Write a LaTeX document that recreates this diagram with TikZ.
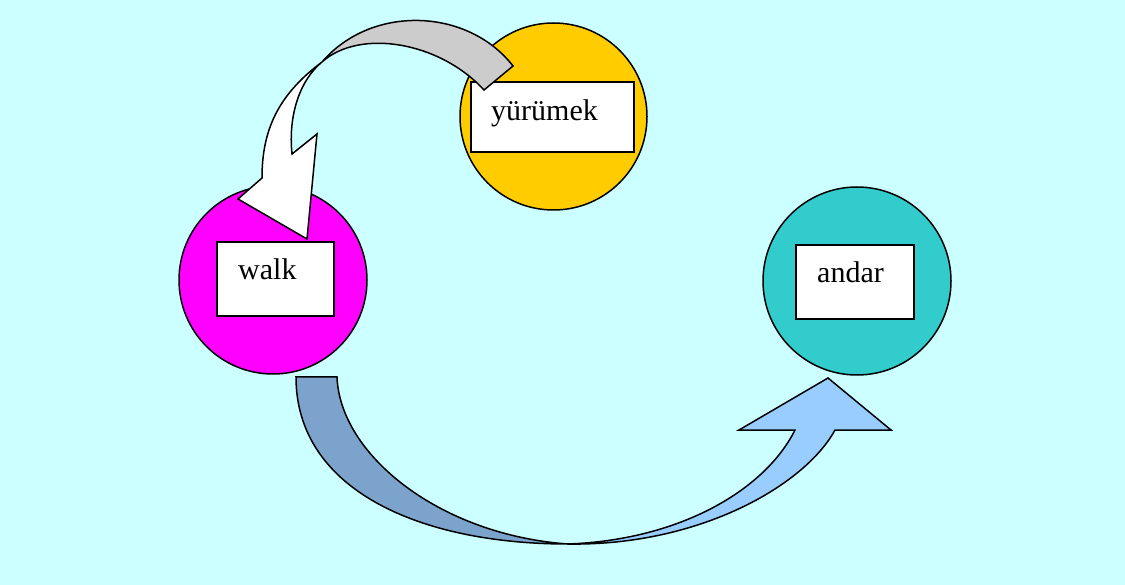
\documentclass[tikz,border=0pt]{standalone}
\usepackage{fontspec}
\setmainfont{Liberation Serif}
\definecolor{bgc}{HTML}{CCFFFF}
\definecolor{magc}{HTML}{FF00FF}
\definecolor{yelc}{HTML}{FFCC00}
\definecolor{tealc}{HTML}{33CCCC}
\definecolor{grayc}{HTML}{CCCCCC}
\definecolor{darkbluec}{HTML}{7BA3CC}
\definecolor{lightbluec}{HTML}{99CCFF}
\begin{document}
\begin{tikzpicture}[x=1pt,y=-1pt,
  ball/.style={circle, draw=black, line width=1.5pt, minimum size=#1, inner sep=0pt},
  wordbox/.style={draw=black, fill=white, line width=1.5pt, inner sep=0pt},
  word/.style={inner sep=0pt, anchor=base west, font=\fontsize{30}{36}\selectfont},
  band/.style={draw=black, line width=1.5pt, line join=miter}]
\useasboundingbox (0,0) rectangle (1125,585);
\fill[bgc] (0,0) rectangle (1125,585);
% circles
\node[ball=188pt, fill=magc] (walkc) at (273,280) {};
\node[ball=187pt, fill=yelc] (yurc) at (553.5,116.5) {};
\node[ball=188pt, fill=tealc] (andc) at (857,281) {};
% boxes
\node[wordbox, minimum width=117pt, minimum height=74pt] (walkb) at (275.5,279) {};
\node[wordbox, minimum width=163pt, minimum height=70pt] (yurb) at (552.5,117) {};
\node[wordbox, minimum width=118pt, minimum height=74pt] (andb) at (855,282) {};
% words
\node[word] (walkt) at (238,280) {walk};
\node[word] (yurt) at (491,121) {yürümek};
\node[word] (andt) at (817,283) {andar};
% top curved arrow: grey back part
\coordinate (tpinch) at (322,62);
\draw[band, fill=grayc] (513,66) .. controls (468,8) and (372,4) .. (tpinch)
  .. controls (360,28) and (440,42) .. (484,90) -- cycle;
% top curved arrow: white front part with head
\draw[band, fill=white] (tpinch) .. controls (278,95) and (262,130) .. (262,178)
  -- (238,199) -- (307,239) -- (317,134) -- (292,154)
  .. controls (288,115) and (300,80) .. (tpinch) -- cycle;
% bottom curved arrow: dark back part
\coordinate (bpinch) at (568,544);
\draw[band, fill=darkbluec] (296,377) -- (337,377)
  .. controls (340,455) and (440,535) .. (bpinch)
  .. controls (420,544) and (296,490) .. (296,377) -- cycle;
% bottom curved arrow: light front part with head
\draw[band, fill=lightbluec] (bpinch) .. controls (700,546) and (805,485) .. (835,430)
  -- (891,430) -- (828,378) -- (739,430) -- (795,430)
  .. controls (765,490) and (680,540) .. (bpinch) -- cycle;
\end{tikzpicture}
\end{document}
